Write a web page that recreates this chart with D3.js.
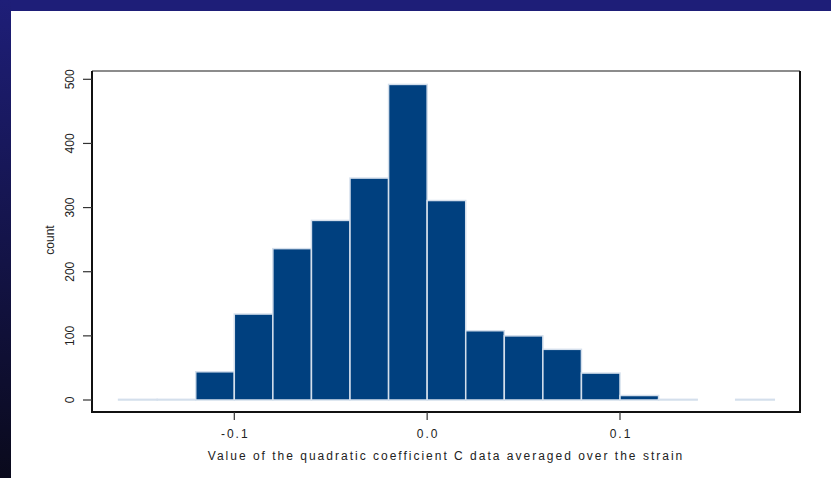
<!DOCTYPE html>
<html>
<head>
<meta charset="utf-8">
<script src="https://cdn.jsdelivr.net/npm/d3@7"></script>
<style>
  html, body { margin: 0; padding: 0; background: #fff; }
  svg { display: block; font-family: "Liberation Sans", Arial, sans-serif; }
</style>
</head>
<body>
<div id="chart"></div>
<script>
// histogram data
const binStarts = [-0.16, -0.14, -0.12, -0.10, -0.08, -0.06, -0.04, -0.02, 0.00, 0.02, 0.04, 0.06, 0.08, 0.10, 0.12, 0.14, 0.16];
const counts = [1, 1, 44, 134, 236, 280, 346, 492, 311, 108, 100, 79, 42, 7, 1, 0, 1];
const binWidth = 0.02;
const xTicks = [-0.1, 0.0, 0.1];
const yTicks = [0, 100, 200, 300, 400, 500];

const width = 831, height = 478;
const box = { left: 92, top: 71, right: 800, bottom: 412 };

const svg = d3.select("#chart")
    .append("svg")
    .attr("width", width)
    .attr("height", height);

// slide background bands
const grad = svg.append("defs").append("linearGradient")
    .attr("id", "band")
    .attr("x1", 0).attr("y1", 0).attr("x2", 0).attr("y2", 1);
grad.append("stop").attr("offset", "0%").attr("stop-color", "#1e1e78");
grad.append("stop").attr("offset", "100%").attr("stop-color", "#0a0a1c");

svg.append("rect").attr("x", 0).attr("y", 0).attr("width", width).attr("height", 11).attr("fill", "#1e1e78");
svg.append("rect").attr("x", 0).attr("y", 0).attr("width", 11).attr("height", height).attr("fill", "url(#band)");

// scales
const x = d3.scaleLinear().domain([-0.1, 0.1]).range([234.3, 620]);
const y = d3.scaleLinear().domain([0, 500]).range([400, 79.3]);

// bars
svg.append("g")
    .selectAll("rect")
    .data(counts)
    .join("rect")
    .attr("x", (d, i) => x(binStarts[i]))
    .attr("y", d => y(d))
    .attr("width", (d, i) => x(binStarts[i] + binWidth) - x(binStarts[i]))
    .attr("height", d => y(0) - y(d))
    .attr("fill", "#00407f")
    .attr("stroke", (d) => d === 0 ? "#f4f6f9" : "#d4dfec")
    .attr("stroke-width", 1.5);

// frame
const frame = svg.append("g").attr("fill", "none");
frame.append("line").attr("x1", box.left).attr("x2", box.right).attr("y1", box.top).attr("y2", box.top)
    .attr("stroke", "#8c8c8c").attr("stroke-width", 2);
frame.append("line").attr("x1", box.right).attr("x2", box.right).attr("y1", box.top).attr("y2", box.bottom)
    .attr("stroke", "#111").attr("stroke-width", 2);
frame.append("line").attr("x1", box.left).attr("x2", box.left).attr("y1", box.top).attr("y2", box.bottom + 1)
    .attr("stroke", "#111").attr("stroke-width", 2);
frame.append("line").attr("x1", box.left).attr("x2", box.right + 1).attr("y1", box.bottom).attr("y2", box.bottom)
    .attr("stroke", "#111").attr("stroke-width", 2);

// y axis
const yAxis = svg.append("g").attr("transform", `translate(${box.left},0)`);
yAxis.selectAll("line")
    .data(yTicks)
    .join("line")
    .attr("x1", -9).attr("x2", 0)
    .attr("y1", d => y(d)).attr("y2", d => y(d))
    .attr("stroke", "#333").attr("stroke-width", 1.2);
yAxis.selectAll("text")
    .data(yTicks)
    .join("text")
    .attr("transform", d => `translate(-22,${y(d)}) rotate(-90)`)
    .attr("text-anchor", "middle")
    .attr("dy", "0.35em")
    .attr("font-size", 12)
    .attr("fill", "#222")
    .text(d => d);

// x axis
const xAxis = svg.append("g").attr("transform", `translate(0,${box.bottom})`);
xAxis.selectAll("line")
    .data(xTicks)
    .join("line")
    .attr("x1", d => x(d)).attr("x2", d => x(d))
    .attr("y1", 0).attr("y2", 8)
    .attr("stroke", "#333").attr("stroke-width", 1.2);
xAxis.selectAll("text")
    .data(xTicks)
    .join("text")
    .attr("x", d => x(d) + 1)
    .attr("y", 26)
    .attr("text-anchor", "middle")
    .attr("font-size", 12)
    .attr("letter-spacing", 2)
    .attr("fill", "#222")
    .text(d => d.toFixed(1));

// axis titles
svg.append("text")
    .attr("x", 446)
    .attr("y", 460)
    .attr("text-anchor", "middle")
    .attr("font-size", 12)
    .attr("letter-spacing", 2)
    .attr("fill", "#222")
    .text("Value of the quadratic coefficient C data averaged over the strain");

svg.append("text")
    .attr("transform", "translate(50,240) rotate(-90)")
    .attr("text-anchor", "middle")
    .attr("dy", "0.35em")
    .attr("font-size", 12)
    .attr("fill", "#222")
    .text("count");
</script>
</body>
</html>
